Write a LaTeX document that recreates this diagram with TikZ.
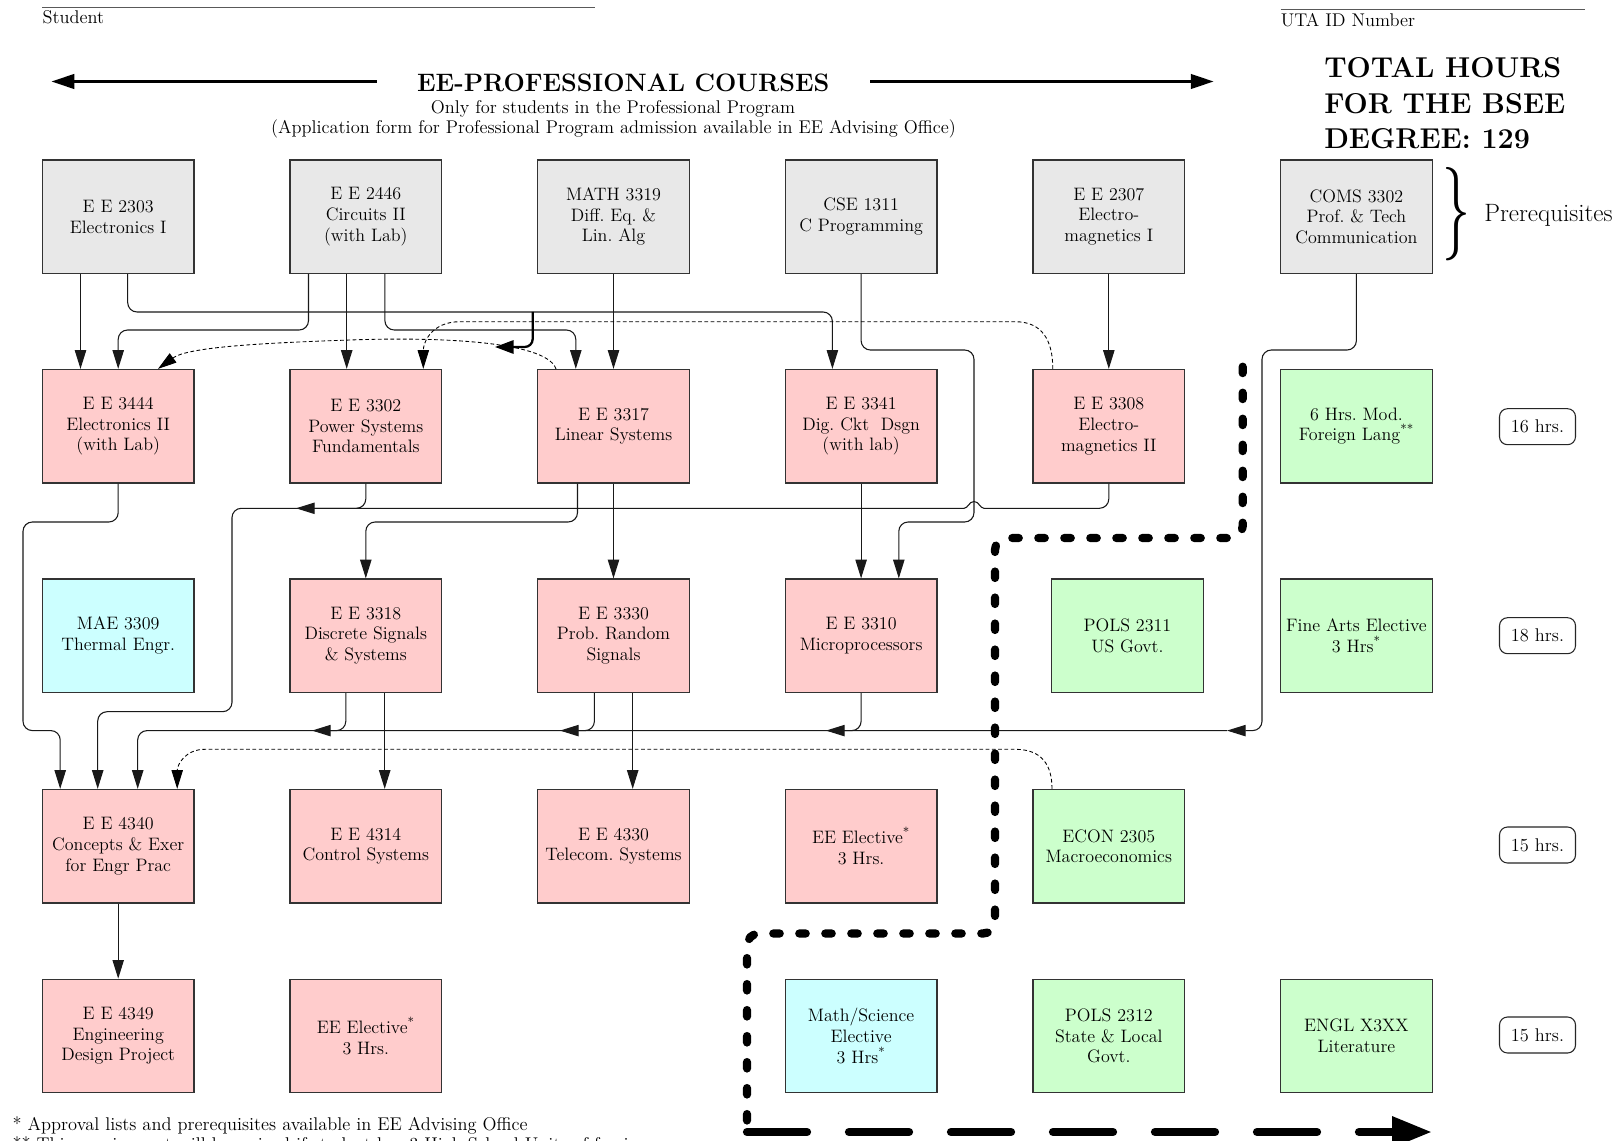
\documentclass[tikz,border=0pt]{standalone}
\usetikzlibrary{arrows.meta,calc}
\definecolor{gfill}{HTML}{E8E8E8}
\definecolor{pfill}{HTML}{FFCCCC}
\definecolor{cfill}{HTML}{CCFFFF}
\definecolor{lfill}{HTML}{CCFFCC}
\newcommand\boxfont{\fontsize{13.5}{15.5}\selectfont\frenchspacing}
\newcommand\txtfont{\fontsize{13.8}{16}\selectfont\frenchspacing}
\begin{document}
\begin{tikzpicture}[x=0.75pt,y=-0.75pt,
  course/.style={draw=black!80, line width=0.9pt, minimum width=113.8pt, minimum height=85.1pt, inner sep=1pt, align=center, font=\boxfont},
  prebox/.style={course, fill=gfill},
  eebox/.style={course, fill=pfill},
  scibox/.style={course, fill=cfill},
  genbox/.style={course, fill=lfill},
  hrsbox/.style={draw=black!85, line width=0.8pt, rounded corners=6pt, minimum width=57pt, minimum height=27pt, inner sep=1pt, font=\txtfont},
  txt/.style={inner sep=0pt, font=\txtfont},
  wire/.style={draw=black!90, line width=0.8pt, rounded corners=7pt},
  link/.style={wire, -{Triangle[length=14pt,width=8.5pt]}},
  dlink/.style={draw=black, line width=0.65pt, dash pattern=on 2.8pt off 1.9pt, -{Triangle[length=14pt,width=8.5pt]}},
  boldlink/.style={draw=black, line width=1.7pt, rounded corners=6pt, -{Triangle[length=14pt,width=10pt]}},
  titlearrow/.style={draw=black, line width=1.6pt, -{Triangle[length=17pt,width=11pt]}},
  rule/.style={draw=black!65, line width=0.9pt},
  bigway/.style={draw=black, line width=6.2pt, line cap=round, rounded corners=9pt, dash pattern=on 4.8pt off 14.7pt},
  bigwaylast/.style={draw=black, line width=6.2pt, line cap=round, dash pattern=on 45pt off 31.5pt, -{Triangle[length=30pt,width=22pt]}}
]
\useasboundingbox (0,0) rectangle (1618,1141);
\fill[white] (0,0) rectangle (1618,1141);

% ---------- header ----------
\coordinate (ruleLa) at (42.3,7.2);
\coordinate (ruleLb) at (595.4,7.2);
\coordinate (ruleRa) at (1280.6,9.3);
\coordinate (ruleRb) at (1585,9.3);
\draw[rule] (ruleLa) -- (ruleLb);
\draw[rule] (ruleRa) -- (ruleRb);
\node[txt, anchor=base west] (student) at (42.3,23.7) {Student};
\node[txt, anchor=base west] (utaid) at (1280.6,26.8) {UTA ID Number};

\node[inner sep=0pt, anchor=base, font=\bfseries\fontsize{18.9}{22}\selectfont] (title) at (623.3,91.8) {EE-PROFESSIONAL COURSES};
\coordinate (tlA) at (376.6,81.5);
\coordinate (tlB) at (51.6,81.5);
\coordinate (trA) at (870,81.5);
\coordinate (trB) at (1213.5,81.5);
\draw[titlearrow] (tlA) -- (tlB);
\draw[titlearrow] (trA) -- (trB);
\node[txt, anchor=base] (sub1) at (613,113.5) {Only for students in the Professional Program};
\node[txt, anchor=base] (sub2) at (613.5,134) {(Application form for Professional Program admission available in EE Advising Office)};

\node[inner sep=0pt, anchor=base west, font=\bfseries\fontsize{21.5}{26}\selectfont] (tot1) at (1324,77.4) {TOTAL HOURS};
\node[inner sep=0pt, anchor=base west, font=\bfseries\fontsize{21.5}{26}\selectfont] (tot2) at (1324,113.5) {FOR THE BSEE};
\node[inner sep=0pt, anchor=base west, font=\bfseries\fontsize{21.5}{26}\selectfont] (tot3) at (1324,148.6) {DEGREE: 129};

% ---------- row 1 ----------
\node[prebox] (ee2303) at (118.2,216.7) {E E 2303\\Electronics I};
\node[prebox] (ee2446) at (365.8,216.7) {E E 2446\\Circuits II\\(with Lab)};
\node[prebox] (math) at (613.5,216.7) {MATH 3319\\Diff. Eq. \&\\Lin. Alg};
\node[prebox] (cse) at (861.1,216.7) {CSE 1311\\C Programming};
\node[prebox] (ee2307) at (1108.8,216.7) {E E 2307\\Electro-\\magnetics I};
\node[prebox] (coms) at (1356.4,216.7) {COMS 3302\\Prof. \& Tech\\Communication};
\node[inner sep=0pt] (brace) at (1456.5,214.5) {\resizebox*{21pt}{70pt}{\}}};
\node[inner sep=0pt, anchor=base west, font=\fontsize{18.8}{22}\selectfont] (prereq) at (1484,222) {Prerequisites};

% ---------- row 2 ----------
\node[eebox] (ee3444) at (118.2,426.2) {E E 3444\\Electronics II\\(with Lab)};
\node[eebox] (ee3302) at (365.8,426.2) {E E 3302\\Power Systems\\Fundamentals};
\node[eebox] (ee3317) at (613.5,426.2) {E E 3317\\Linear Systems};
\node[eebox] (ee3341) at (861.1,426.2) {E E 3341\\Dig. Ckt\ \ Dsgn\\(with lab)};
\node[eebox] (ee3308) at (1108.8,426.2) {E E 3308\\Electro-\\magnetics II};
\node[genbox] (lang) at (1356.4,426.2) {6 Hrs. Mod.\\Foreign Lang\textsuperscript{**}};
\node[hrsbox] (h16) at (1537.5,426.7) {16 hrs.};

% ---------- row 3 ----------
\node[scibox] (mae) at (118.2,635.7) {MAE 3309\\Thermal Engr.};
\node[eebox] (ee3318) at (365.8,635.7) {E E 3318\\Discrete Signals\\\& Systems};
\node[eebox] (ee3330) at (613.5,635.7) {E E 3330\\Prob. Random\\Signals};
\node[eebox] (ee3310) at (861.1,635.7) {E E 3310\\Microprocessors};
\node[genbox] (pols1) at (1127.4,635.7) {POLS 2311\\US Govt.};
\node[genbox] (arts) at (1356.4,635.7) {Fine Arts Elective\\3 Hrs\textsuperscript{*}};
\node[hrsbox] (h18) at (1537.5,635.7) {18 hrs.};

% ---------- row 4 ----------
\node[eebox] (ee4340) at (118.2,846.2) {E E 4340\\Concepts \& Exer\\for Engr Prac};
\node[eebox] (ee4314) at (365.8,846.2) {E E 4314\\Control Systems};
\node[eebox] (ee4330) at (613.5,846.2) {E E 4330\\Telecom. Systems};
\node[eebox] (elec1) at (861.1,846.2) {EE Elective\textsuperscript{*}\\3 Hrs.};
\node[genbox] (econ) at (1108.8,846.2) {ECON 2305\\Macroeconomics};
\node[hrsbox] (h15a) at (1537.5,845) {15 hrs.};

% ---------- row 5 ----------
\node[eebox] (ee4349) at (118.2,1036) {E E 4349\\Engineering\\Design Project};
\node[eebox] (elec2) at (365.8,1036) {EE Elective\textsuperscript{*}\\3 Hrs.};
\node[scibox] (msci) at (861.1,1036) {Math/Science\\Elective\\3 Hrs\textsuperscript{*}};
\node[genbox] (pols2) at (1108.8,1036) {POLS 2312\\State \& Local\\Govt.};
\node[genbox] (engl) at (1356.4,1036) {ENGL X3XX\\Literature};
\node[hrsbox] (h15b) at (1537.5,1035) {15 hrs.};

% ---------- footnotes ----------
\node[txt, anchor=base west] (fn1) at (12.4,1130) {* Approval lists and prerequisites available in EE Advising Office};
\node[txt, anchor=base west] (fn2) at (12.4,1150.5) {** This requirement will be waived if student has 3 High School Units of foreign};

% ---------- junction coordinates ----------
\coordinate (busA) at (296,508.3);
\coordinate (busB) at (1227,730.6);
\coordinate (busB1) at (826,730.6);
\coordinate (busB2) at (560,730.6);
\coordinate (busB3) at (312,730.6);
\coordinate (hopR) at (984,508.3);
\coordinate (hopL) at (964,508.3);
\coordinate (markA) at (532.7,312);
\coordinate (markB) at (495,347);

% ---------- connectors ----------
\draw[link] ($(ee2303.south)+(-37.7,0)$) -- ($(ee3444.north)+(-37.7,0)$);
\draw[link] ($(ee2303.south)+(9.5,0)$) -- (127.7,312) -- (832.4,312) -- ($(ee3341.north)+(-28.7,0)$);
\draw[link] ($(ee2446.south)+(-57.3,0)$) -- (308.5,330) -- (118.2,330) -- (ee3444.north);
\draw[link] ($(ee2446.south)+(-19.1,0)$) -- ($(ee3302.north)+(-19.1,0)$);
\draw[link] ($(ee2446.south)+(19.1,0)$) -- (384.9,330) -- (575.8,330) -- ($(ee3317.north)+(-37.7,0)$);
\draw[link] (math.south) -- (ee3317.north);
\draw[link] (cse.south) -- (861.1,350) -- (974,350) -- (974,522) -- (898.8,522) -- ($(ee3310.north)+(37.7,0)$);
\draw[link] (ee2307.south) -- (ee3308.north);
\draw[link] (coms.south) -- (1356.4,350) -- (1262,350) -- (1262,730.6) -- (busB);
\draw[link] (busB) -- (137.7,730.6) -- ($(ee4340.north)+(19.5,0)$);

\draw[link] (ee3444.south) -- (118.2,522) -- (23,522) -- (23,730.6) -- (60.2,730.6) -- ($(ee4340.north)+(-58,0)$);
\draw[link] (ee3302.south) -- (365.8,508.3) -- (busA);
\draw[wire] (ee3308.south) -- (1108.8,508.3) -- (hopR);
\draw[draw=black!90, line width=0.8pt] (hopR) .. controls (980,508.3) and (979,501.5) .. (974,501.5)
   .. controls (969,501.5) and (968,508.3) .. (hopL);
\draw[link] (hopL) -- (232,508.3) -- (232,711.7) -- (97.7,711.7) -- ($(ee4340.north)+(-20.5,0)$);
\draw[link] ($(ee3317.south)+(-36,0)$) -- (577.5,522) -- (365.8,522) -- (ee3318.north);
\draw[link] (ee3317.south) -- (ee3330.north);
\draw[link] (ee3341.south) -- (ee3310.north);

\draw[link] ($(ee3318.south)+(-20,0)$) -- (345.8,730.6) -- (busB3);
\draw[link] ($(ee3318.south)+(18.9,0)$) -- ($(ee4314.north)+(18.9,0)$);
\draw[link] ($(ee3330.south)+(-19.1,0)$) -- (594.4,730.6) -- (busB2);
\draw[link] ($(ee3330.south)+(19.2,0)$) -- ($(ee4330.north)+(19.2,0)$);
\draw[link] (ee3310.south) -- (861.1,730.6) -- (busB1);
\draw[link] (ee4340.south) -- (ee4349.north);

\draw[boldlink] (markA) -- (532.7,347) -- (markB);

% dashed connectors
\draw[dlink] ($(ee3317.north)+(-57.5,0)$) .. controls (546,340) and (430,337) .. (350,340)
   .. controls (262,343) and (188,347) .. ($(ee3444.north)+(39.8,0)$);
\draw[dlink] ($(ee3308.north)+(-56,0)$) .. controls (1052.8,340) and (1042,321.7) .. (1015,321.7)
   -- (460,321.7) .. controls (432,321.7) and (423.3,342) .. ($(ee3302.north)+(57.5,0)$);
\draw[dlink] ($(econ.north)+(-56.8,0)$) .. controls (1052,765) and (1042,749.3) .. (1015,749.3)
   -- (205,749.3) .. controls (185,749.3) and (177.2,765) .. ($(ee4340.north)+(59,0)$);

% thick path
\coordinate (wayA) at (1242.7,366.7);
\coordinate (wayB) at (747,1132);
\coordinate (wayC) at (1432,1132);
\draw[bigway] (wayA) -- (1242.7,538) -- (995,538) -- (995,933.5) -- (747,933.5) -- (wayB);
\draw[bigwaylast] (wayB) -- (wayC);
\end{tikzpicture}
\end{document}
